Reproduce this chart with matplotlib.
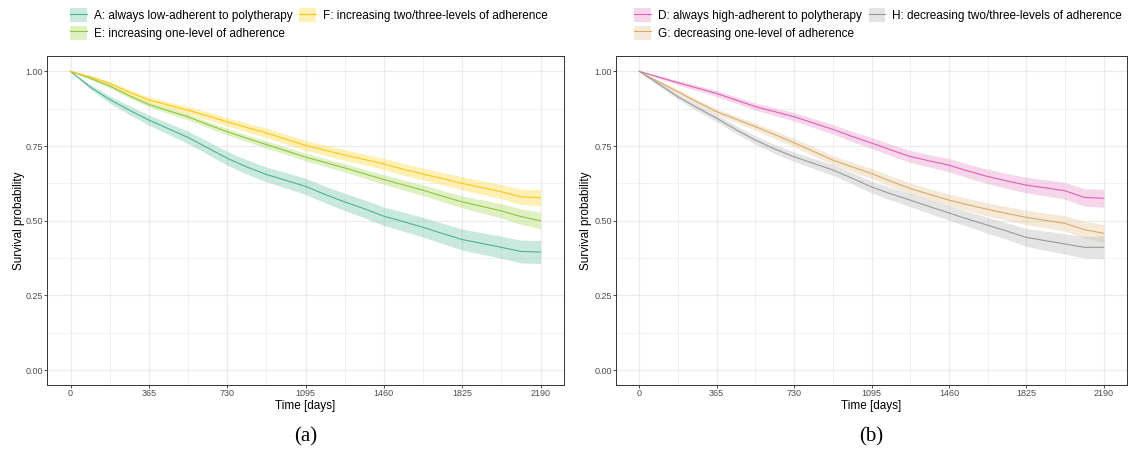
import matplotlib.pyplot as plt
from matplotlib.lines import Line2D
from matplotlib.patches import Patch
import numpy as np

plt.rcParams['font.family'] = ['Liberation Sans', 'DejaVu Sans']

# ------------------------------------------------------------
# data (Kaplan-Meier curves + 95% CI)
# ------------------------------------------------------------
days = [0, 91, 182, 274, 365, 456, 547, 639, 730, 821, 912, 1004, 1095,
        1186, 1277, 1369, 1460, 1551, 1642, 1734, 1825, 1916, 2007, 2098, 2190]

x_ticks = [0, 365, 730, 1095, 1460, 1825, 2190]
y_ticks = [0.00, 0.25, 0.50, 0.75, 1.00]

# panel (a)
surv_A = [1.0, 0.948, 0.906, 0.870, 0.837, 0.808, 0.779, 0.744, 0.709, 0.680, 0.655, 0.635, 0.615,
          0.588, 0.563, 0.540, 0.515, 0.497, 0.478, 0.457, 0.437, 0.424, 0.411, 0.397, 0.395]
ci_A = [0, 0.008, 0.012, 0.015, 0.017, 0.019, 0.021, 0.022, 0.023, 0.024, 0.025, 0.026, 0.027,
        0.028, 0.029, 0.030, 0.031, 0.032, 0.033, 0.034, 0.035, 0.036, 0.037, 0.038, 0.039]
surv_E = [1.0, 0.977, 0.951, 0.918, 0.889, 0.868, 0.848, 0.822, 0.798, 0.776, 0.755, 0.734, 0.713,
          0.695, 0.677, 0.657, 0.638, 0.620, 0.602, 0.582, 0.563, 0.548, 0.533, 0.514, 0.500]
ci_E = [0, 0.004, 0.006, 0.007, 0.008, 0.009, 0.010, 0.010, 0.011, 0.011, 0.012, 0.012, 0.013,
        0.013, 0.014, 0.015, 0.016, 0.017, 0.018, 0.019, 0.020, 0.022, 0.024, 0.026, 0.028]
surv_F = [1.0, 0.982, 0.960, 0.930, 0.904, 0.887, 0.870, 0.851, 0.831, 0.812, 0.794, 0.773, 0.752,
          0.736, 0.720, 0.705, 0.690, 0.672, 0.656, 0.641, 0.625, 0.611, 0.597, 0.580, 0.577]
ci_F = [0, 0.005, 0.007, 0.009, 0.010, 0.011, 0.012, 0.013, 0.014, 0.015, 0.016, 0.016, 0.017,
        0.017, 0.018, 0.018, 0.019, 0.020, 0.020, 0.021, 0.022, 0.023, 0.024, 0.026, 0.027]

# panel (b)
surv_D = [1.0, 0.981, 0.962, 0.944, 0.926, 0.904, 0.882, 0.865, 0.848, 0.827, 0.806, 0.782, 0.760,
          0.737, 0.715, 0.700, 0.686, 0.666, 0.648, 0.633, 0.619, 0.610, 0.600, 0.578, 0.575]
ci_D = [0, 0.005, 0.007, 0.009, 0.010, 0.011, 0.012, 0.013, 0.014, 0.015, 0.016, 0.017, 0.018,
        0.019, 0.020, 0.021, 0.022, 0.023, 0.024, 0.025, 0.026, 0.027, 0.028, 0.029, 0.030]
surv_G = [1.0, 0.965, 0.932, 0.897, 0.865, 0.840, 0.815, 0.788, 0.761, 0.732, 0.703, 0.680, 0.658,
          0.632, 0.608, 0.588, 0.569, 0.553, 0.538, 0.524, 0.511, 0.501, 0.491, 0.470, 0.458]
ci_G = [0, 0.005, 0.008, 0.009, 0.010, 0.011, 0.012, 0.013, 0.014, 0.015, 0.015, 0.016, 0.017,
        0.018, 0.019, 0.019, 0.020, 0.021, 0.022, 0.023, 0.024, 0.025, 0.026, 0.028, 0.030]
surv_H = [1.0, 0.958, 0.915, 0.878, 0.843, 0.805, 0.770, 0.740, 0.714, 0.692, 0.670, 0.642, 0.613,
          0.590, 0.569, 0.547, 0.526, 0.505, 0.485, 0.465, 0.444, 0.433, 0.422, 0.411, 0.411]
ci_H = [0, 0.006, 0.009, 0.011, 0.012, 0.013, 0.014, 0.015, 0.016, 0.017, 0.018, 0.019, 0.020,
        0.021, 0.022, 0.023, 0.024, 0.025, 0.027, 0.028, 0.030, 0.032, 0.034, 0.036, 0.038]

# (label, survival, ci half width, line colour, band colour)
panel_a = [
    ('A: always low-adherent to polytherapy', surv_A, ci_A, '#4DB38E', '#66C2A5'),
    ('E: increasing one-level of adherence', surv_E, ci_E, '#8CC63F', '#A6D854'),
    ('F: increasing two/three-levels of adherence', surv_F, ci_F, '#FFC61A', '#FFD92F'),
]
panel_b = [
    ('D: always high-adherent to polytherapy', surv_D, ci_D, '#E060B4', '#E78AC3'),
    ('G: decreasing one-level of adherence', surv_G, ci_G, '#DBA965', '#E5C494'),
    ('H: decreasing two/three-levels of adherence', surv_H, ci_H, '#9A9A9A', '#B3B3B3'),
]

W, H = 1128, 453
fig = plt.figure(figsize=(W / 100, H / 100), dpi=100)

ax_a = fig.add_axes([47 / W, 1 - 385 / H, (564 - 47) / W, (385 - 56.4) / H])
ax_b = fig.add_axes([616 / W, 1 - 385 / H, (1127 - 616) / W, (385 - 56.4) / H])


def draw_panel(ax, series, caption, legend_x, ylab_x):
    t = np.array(days)
    handles = []
    for label, s, ci, lc, fc in series:
        s = np.array(s)
        ci = np.array(ci)
        ax.fill_between(t, s - ci, s + ci, color=fc, alpha=0.35, lw=0, zorder=2)
        ax.plot(t, s, color=lc, lw=0.8, zorder=3)
        handles.append((Patch(facecolor=fc, alpha=0.35, edgecolor='none'),
                        Line2D([], [], color=lc, lw=0.8)))

    ax.set_xlim(-109.5, 2299.5)
    ax.set_ylim(-0.05, 1.05)
    ax.set_xticks(x_ticks)
    ax.set_yticks(y_ticks)
    ax.set_yticklabels(['%.2f' % v for v in y_ticks])
    ax.set_xticks([182.5 + 365 * i for i in range(6)], minor=True)
    ax.set_yticks([0.125, 0.375, 0.625, 0.875], minor=True)
    ax.grid(which='major', color='#EBEBEB', lw=0.9, zorder=0)
    ax.grid(which='minor', color='#EBEBEB', lw=0.5, zorder=0)
    ax.set_axisbelow(True)
    ax.tick_params(which='major', length=2.2, width=0.6, color='#333333',
                   labelsize=6.5, labelcolor='#4D4D4D', pad=0.8)
    ax.tick_params(which='minor', length=0)
    for sp in ax.spines.values():
        sp.set_color('#333333')
        sp.set_linewidth(0.7)
    ax.set_xlabel('Time [days]', fontsize=8.5)
    ax.set_ylabel('Survival probability', fontsize=8.5)
    ax.xaxis.set_label_coords(0.5, -0.046)
    ax.yaxis.set_label_coords(ylab_x, 0.5)

    bb = ax.get_position()
    fig.text(bb.x0 + bb.width / 2, 1 - 437 / H, caption, ha='center', va='center',
             fontsize=15, family=['Liberation Serif', 'DejaVu Serif'])

    leg = fig.legend(handles, [s[0] for s in series], ncol=2,
                     loc='upper left', bbox_to_anchor=(legend_x / W, 1 - 8 / H),
                     frameon=False, fontsize=8.5, borderpad=0, borderaxespad=0,
                     handlelength=1.4, handleheight=1.5, handletextpad=0.6,
                     labelspacing=0.3, columnspacing=0.6)
    return leg


draw_panel(ax_a, panel_a, '(a)', 70, -0.043)
draw_panel(ax_b, panel_b, '(b)', 634, -0.046)

fig.savefig('out.png', dpi=100)
